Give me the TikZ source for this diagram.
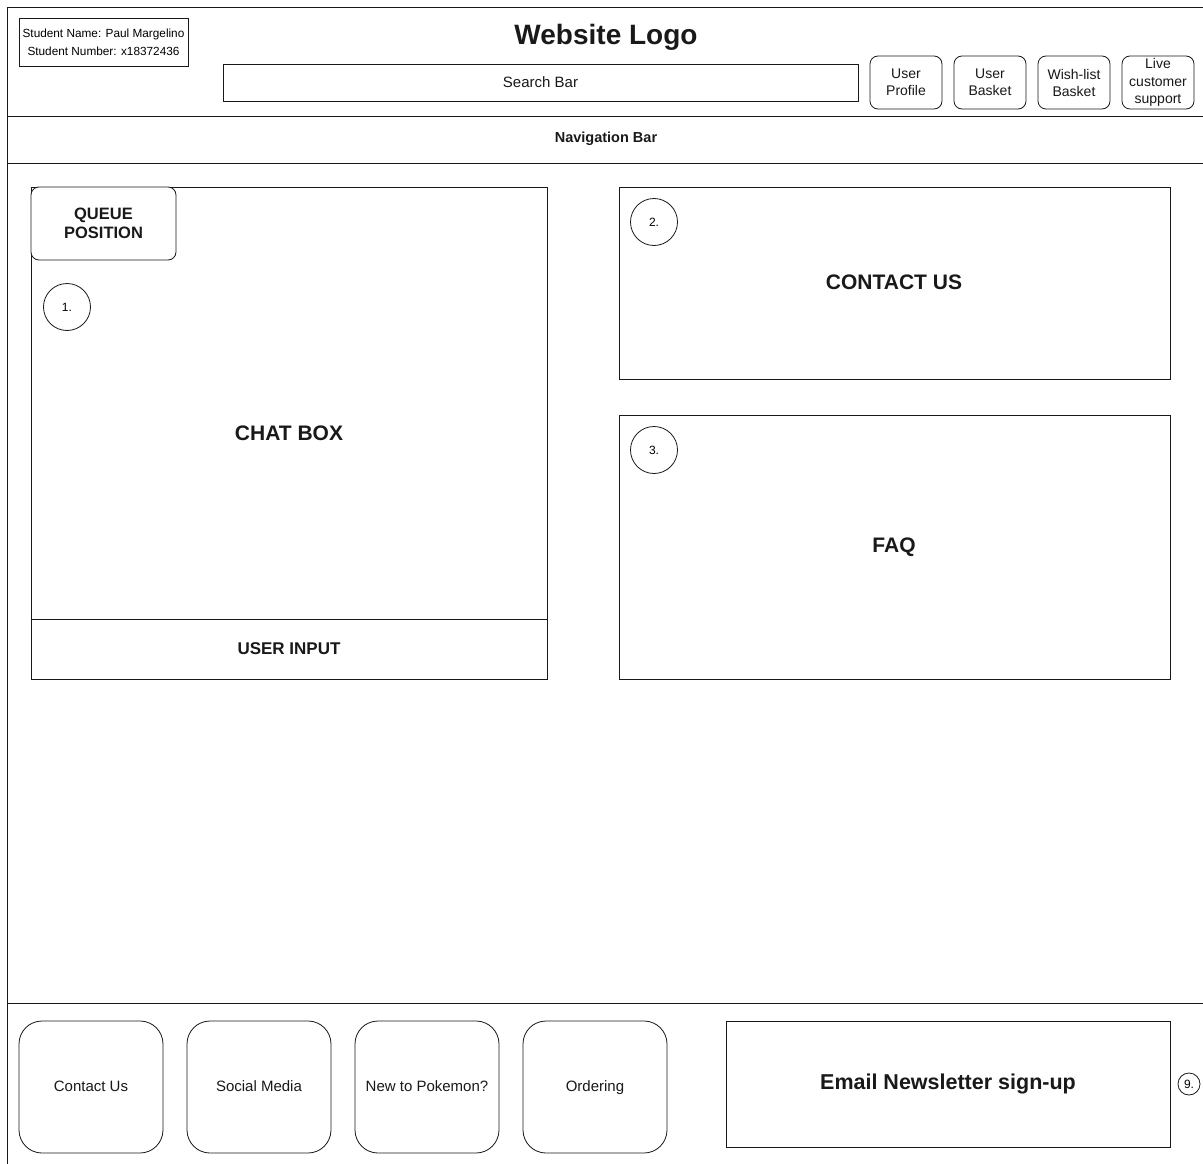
\documentclass[tikz,border=0pt]{standalone}
\usepackage{fontspec}
\setmainfont{Liberation Sans}
\begin{document}
\begin{tikzpicture}[x=1pt,y=-1pt,
  line width=0.8pt,
  box/.style={draw=black!90, fill=white},
  rbox/.style={draw=black!90, fill=white, rounded corners=8pt},
  fbox/.style={draw=black!90, fill=white, rounded corners=23pt},
  num/.style={circle, draw=black!90, fill=white, minimum size=47pt, inner sep=0pt, font=\fontsize{12}{14}\selectfont},
  lbl/.style={align=center, text=black!90},
  bigb/.style={lbl, font=\fontsize{21}{24}\selectfont\bfseries},
  midb/.style={lbl, font=\fontsize{16.5}{19}\selectfont\bfseries},
  small/.style={lbl, font=\fontsize{14}{17}\selectfont},
  foot/.style={lbl, font=\fontsize{15}{18}\selectfont},
]
\useasboundingbox (0,0) rectangle (1203,1164);

% page frame and header / navigation / footer dividers
\draw[black!90] (7,1170) -- (7,7) -- (1210,7);
\draw[black!90] (7,116) -- (1210,116);
\draw[black!90] (7,163) -- (1210,163);
\draw[black!90] (7,1003) -- (1210,1003);

% header
\node[box, minimum width=169pt, minimum height=48pt, inner sep=1pt, align=center,
      font=\fontsize{11.8}{18}\selectfont] (student) at (103.5,42)
      {Student Name: Paul Margelino\\Student Number: x18372436};
\node[lbl, font=\fontsize{28}{32}\selectfont\bfseries] (logo) at (606,37) {Website Logo};
\node[box, minimum width=635pt, minimum height=37pt, lbl, font=\fontsize{15}{18}\selectfont] (search) at (540.5,82.5) {Search Bar};

\foreach \nm/\cx/\txt in {profile/906/User\\Profile, basket/990/User\\Basket,
                         wish/1074/Wish-list\\Basket}
  \node[rbox, minimum width=72pt, minimum height=53pt, inner sep=0pt, small] (\nm) at (\cx,82.5) {\txt};
\node[rbox, minimum width=72pt, minimum height=53pt, inner sep=0pt, lbl,
      font=\fontsize{14}{17.5}\selectfont] (live) at (1158,82.5) {Live\\customer\\support};

\node[lbl, font=\fontsize{14.5}{17}\selectfont\bfseries] (nav) at (606,139) {Navigation Bar};

% chat area
\node[box, minimum width=516pt, minimum height=492pt] (chat) at (289,433) {};
\node[bigb] (chatlbl) at (289,433) {CHAT BOX};
\draw[black!90] (chat.west |- 0,619) -- (chat.east |- 0,619);
\node[lbl, font=\fontsize{17}{20}\selectfont\bfseries] (input) at (289,649) {USER INPUT};
\node[rbox, minimum width=145pt, minimum height=73pt, midb] (queue) at (103.5,223.5) {QUEUE\\POSITION};
\node[num] (n1) at (67,307) {1.};

% contact us
\node[box, minimum width=551pt, minimum height=192pt] (contact) at (894.5,283) {};
\node[bigb] (contactlbl) at (894,282) {CONTACT US};
\node[num] (n2) at (654,222) {2.};

% FAQ
\node[box, minimum width=551pt, minimum height=264pt] (faq) at (894.5,547) {};
\node[bigb] (faqlbl) at (894,547) {FAQ};
\node[num] (n3) at (654,450) {3.};

% footer links
\foreach \nm/\cx/\txt in {fcontact/91/Contact Us, fsocial/259/Social Media,
                         fnew/427/New to Pokemon?, forder/595/Ordering}
  \node[fbox, minimum width=144pt, minimum height=132pt, inner sep=0pt, foot,
        text height=11pt, text depth=3pt] (\nm) at (\cx,1087) {\txt};
\node[box, minimum width=444pt, minimum height=126pt, lbl,
      font=\fontsize{21.5}{25}\selectfont\bfseries] (news) at (948,1084) {Email Newsletter sign-up};
\node[circle, draw=black!90, fill=white, minimum size=22pt, inner sep=0pt,
      font=\fontsize{12}{14}\selectfont] (n9) at (1189,1084) {9.};
\end{tikzpicture}
\end{document}
